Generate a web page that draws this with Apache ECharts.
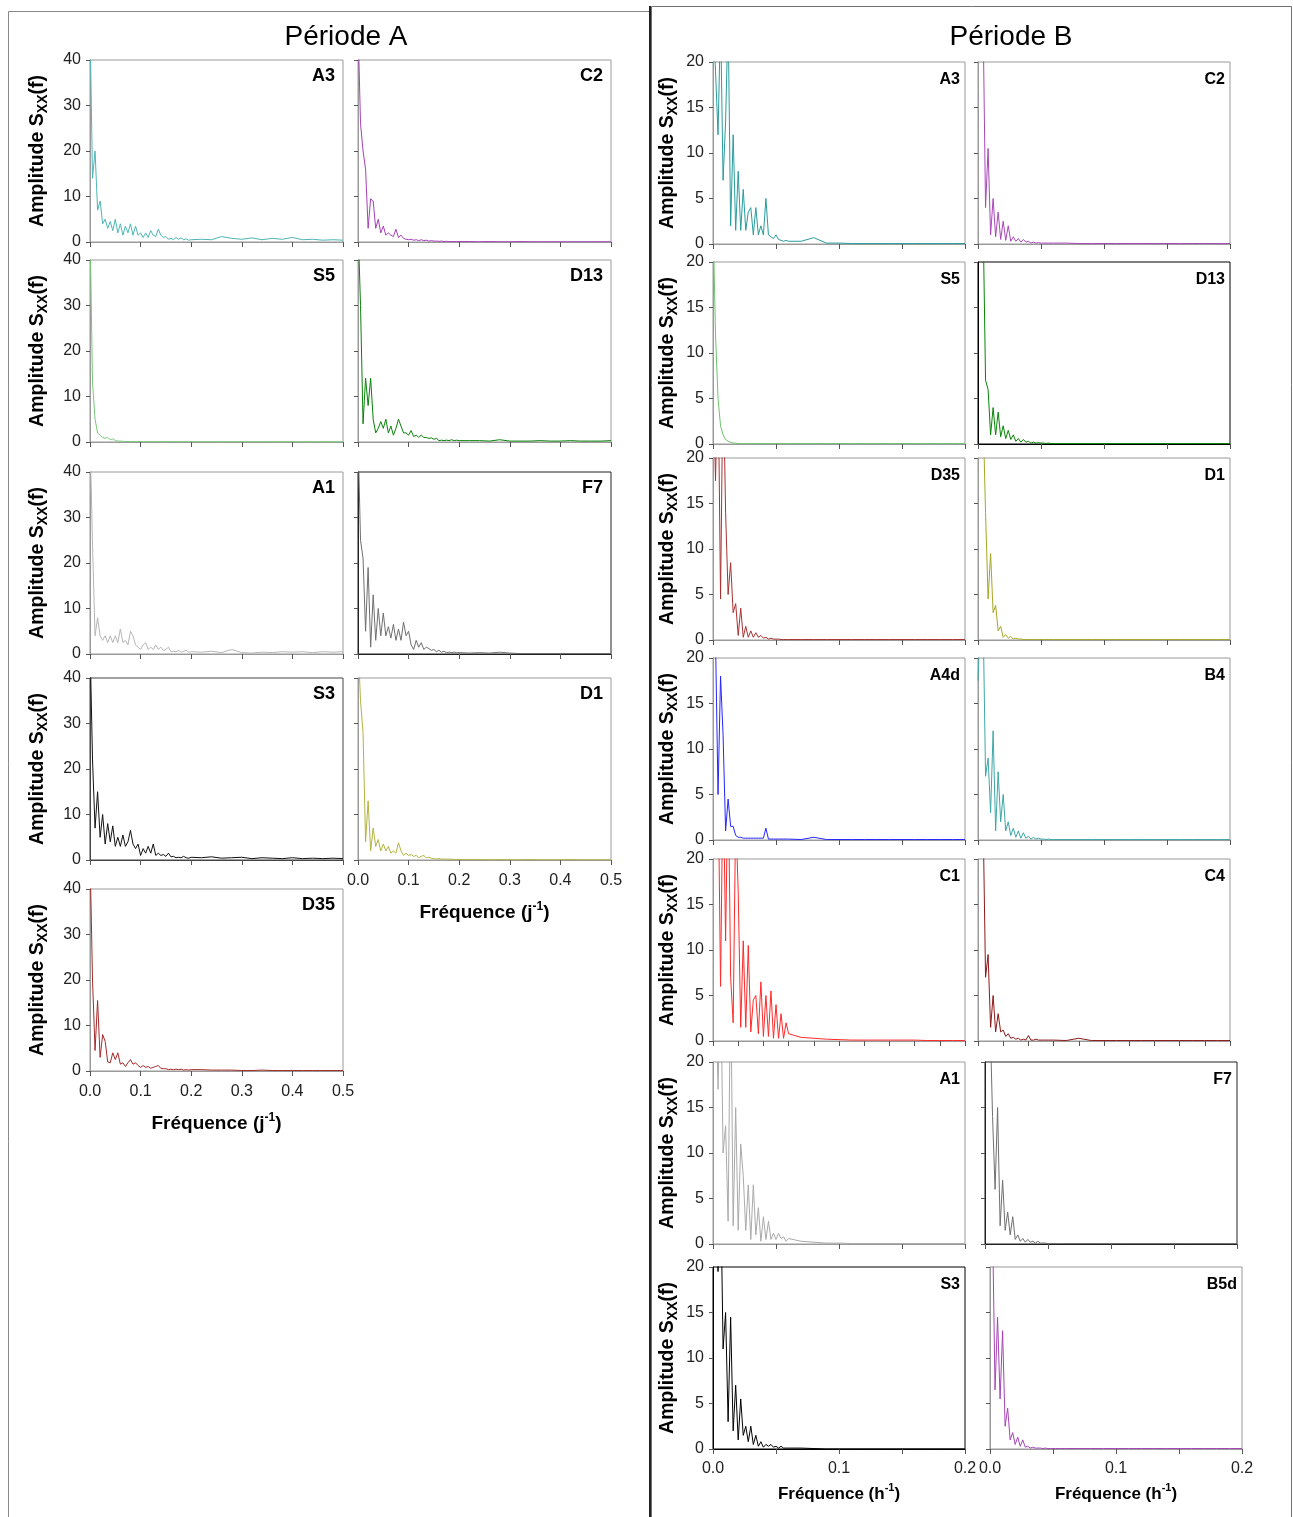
<!DOCTYPE html>
<html>
<head>
<meta charset="utf-8">
<title>Spectres Sxx(f)</title>
<script src="https://cdn.jsdelivr.net/npm/echarts@6/dist/echarts.min.js"></script>
<style>
  html, body { margin: 0; padding: 0; background: #fff; }
  #main { width: 1293px; height: 1517px; }
</style>
</head>
<body>
<div id="main"></div>
<script>
// frequency grids (A: j-1, B: h-1)
var freqA = [0, 0.005, 0.01, 0.015, 0.02, 0.025, 0.03, 0.035, 0.04, 0.045,
  0.05, 0.055, 0.06, 0.065, 0.07, 0.075, 0.08, 0.085, 0.09, 0.095,
  0.1, 0.105, 0.11, 0.115, 0.12, 0.125, 0.13, 0.135, 0.14, 0.145,
  0.15, 0.155, 0.16, 0.165, 0.17, 0.175, 0.18, 0.185, 0.19, 0.195,
  0.2,
  0.22, 0.24, 0.26, 0.28, 0.30, 0.32, 0.34, 0.36, 0.38, 0.40, 0.42, 0.44, 0.46, 0.48, 0.50];
var freqB = [0, 0.002, 0.004, 0.006, 0.008, 0.01, 0.012, 0.014, 0.016, 0.018,
  0.02, 0.022, 0.024, 0.026, 0.028, 0.03, 0.032, 0.034, 0.036, 0.038,
  0.04, 0.042, 0.044, 0.046, 0.048, 0.05, 0.052, 0.054, 0.056, 0.058,
  0.06,
  0.07, 0.08, 0.09, 0.1, 0.11, 0.12, 0.13, 0.14, 0.15, 0.16, 0.17, 0.18, 0.19, 0.2];

var tickLabelsA = ['0.0', '0.1', '0.2', '0.3', '0.4', '0.5'];
var tickLabelsB = ['0.0', '0.1', '0.2'];

// Période A amplitudes
var ampA_A3 = [48,14,20,7,9,4,5,3,4.5,2.5, 5,2,4,1.5,3.5,2,4,1.5,3.5,1.5, 2,1,2,1,2.5,1.5,1.2,2.8,1.5,1,
  1.2,0.6,0.8,0.5,1,0.6,0.9,0.5,0.7,0.4, 0.5,
  0.6,0.5,1.2,0.8,0.6,0.9,0.5,0.8,0.6,1.0,0.5,0.6,0.4,0.5,0.4];
var ampA_C2 = [48,26,20,16,3,9.5,9,3,5,2, 3.5,1.5,2,1.5,1.2,2.8,1,1.5,0.8,0.6, 0.5,0.6,0.4,0.5,0.3,0.5,0.3,0.4,0.2,0.3,
  0.2,0.2,0.15,0.2,0.1,0.15,0.1,0.1,0.1,0.1, 0.1,
  0.1,0.05,0.1,0.05,0.05,0.1,0.05,0.05,0.05,0.05,0.05,0.05,0.05,0.05,0.05];
var ampA_S5 = [48,13,5,2,1.5,1,0.8,1,0.5,0.7, 0.3,0.2,0.2,0.15,0.1,0.1,0.1,0.1,0.1,0.1, 0.1,0.05,0.1,0.05,0.1,0.05,0.1,0.05,0.1,0.05,
  0.1,0.05,0.1,0.05,0.1,0.05,0.1,0.05,0.1,0.05, 0.05,
  0.05,0.05,0.05,0.05,0.05,0.05,0.05,0.05,0.05,0.05,0.05,0.05,0.05,0.05,0.05];
var ampA_D13 = [48,30,4,14,8,14,5,2,3,4.5, 3,5,2,3.5,1.5,3,5,3.5,2,2, 1.5,2.5,1.2,1.5,1,1.5,1,1,0.8,0.9,
  0.6,0.8,0.3,0.4,0.3,0.4,0.3,0.5,0.3,0.4, 0.3,
  0.3,0.3,0.2,0.5,0.2,0.2,0.2,0.3,0.2,0.2,0.3,0.2,0.2,0.2,0.3];
var ampA_A1 = [48,24,4,8,4,3,4,2.5,4,2.5, 4,2.5,5.5,2.5,3,2,5,4,2,1.5, 1,2,2.5,1,1.5,1,2,1,1.5,0.8,
  1,1.5,0.5,0.6,0.5,0.8,0.4,0.6,0.8,0.4, 0.5,
  0.4,0.6,0.3,1,0.3,0.2,0.4,0.3,0.5,0.4,0.5,0.3,0.5,0.4,0.5];
var ampA_F7 = [48,25,21,5,19,1.5,13,3,10,4, 9,4,6,3.5,6.5,3,5.5,3,7,4, 5,2,1,3,1.5,2.5,1,1.5,1.2,0.8,
  1,0.5,0.8,0.4,0.6,0.3,0.4,0.3,0.4,0.3, 0.3,
  0.2,0.3,0.2,0.4,0.2,0.1,0.1,0.1,0.1,0.1,0.1,0.1,0.1,0.1,0.1];
var ampA_S3 = [48,22,7,15,5,10,3.5,8,4,7.5, 3,5,3,5.5,3,4,6.5,3.5,2.5,3.5, 1,2.5,1.5,3,1.5,3.5,1,1.5,1,1.2,
  0.8,1.5,0.7,0.8,0.5,0.6,0.5,0.8,0.5,0.4, 0.6,
  0.5,0.7,0.4,0.5,0.6,0.3,0.5,0.4,0.3,0.5,0.3,0.4,0.3,0.4,0.3];
var ampA_D1 = [48,35,28,4,13,2,7,3,4.5,2, 3.5,2,3,1.5,2,1.5,3.8,2,1,1.5, 1,1.2,0.8,1,0.5,0.8,1,0.5,0.6,0.4,
  0.3,0.2,0.3,0.2,0.2,0.2,0.15,0.2,0.1,0.15, 0.1,
  0.1,0.1,0.05,0.1,0.05,0.05,0.1,0.05,0.05,0.05,0.1,0.05,0.05,0.05,0.05];
var ampA_D35 = [48,20,4.5,15.5,3,8,6.5,2,1.8,4, 2.5,4,1.5,1.8,1,1.8,2.5,1.5,1.8,1.2, 0.8,1.2,0.8,1,0.6,0.8,1,1.2,0.6,0.5,
  0.5,0.3,0.4,0.3,0.4,0.3,0.4,0.2,0.3,0.2, 0.3,
  0.3,0.2,0.2,0.2,0.1,0.1,0.2,0.1,0.1,0.1,0.1,0.1,0.1,0.1,0.1];

// Période B amplitudes
var ampB_A3 = [25,19,12,25,7,13.5,25,2,12,1.5, 8,1.5,6,1.5,3.5,4,1,4,1,2, 1,5,1,0.8,0.6,1,0.5,0.4,0.3,0.4, 0.3,
  0.3,0.7,0.1,0.1,0.05,0.05,0.05,0.05,0.05,0.05,0.05,0.05,0.05,0.05];
var ampB_C2 = [30,30,25,4,10.5,1,5,0.8,3.5,0.5, 2.5,0.4,2,0.3,0.8,0.3,0.6,0.2,0.5,0.2, 0.3,0.1,0.2,0.1,0.15,0.1,0.1,0.1,0.1,0.1, 0.1,
  0.1,0.05,0.05,0.05,0.05,0.05,0.05,0.05,0.05,0.05,0.05,0.05,0.05,0.05];
var ampB_S5 = [25,12,5,2,1,0.5,0.3,0.2,0.1,0.1, 0.05,0.05,0.05,0.05,0.05,0.05,0.05,0.05,0.05,0.05, 0.05,0.05,0.05,0.05,0.05,0.05,0.05,0.05,0.05,0.05, 0.05,
  0.05,0.05,0.05,0.05,0.05,0.05,0.05,0.05,0.05,0.05,0.05,0.05,0.05,0.05];
var ampB_D13 = [30,30,25,7,6,1,4,1,3.5,0.8, 2,0.6,1.5,0.5,1,0.3,0.6,0.2,0.5,0.2, 0.3,0.1,0.2,0.1,0.15,0.1,0.1,0.05,0.1,0.05, 0.05,
  0.05,0.05,0.05,0.05,0.05,0.05,0.05,0.05,0.05,0.05,0.05,0.05,0.05,0.05];
var ampB_D35 = [30,17.5,30,4.5,30,14,5,8.5,3,4, 0.5,3.5,0.3,1.5,0.3,1,0.3,0.8,0.3,0.5, 0.2,0.3,0.1,0.2,0.1,0.1,0.1,0.05,0.05,0.05, 0.05,
  0.05,0.05,0.05,0.05,0.05,0.05,0.05,0.05,0.05,0.05,0.05,0.05,0.05,0.05];
var ampB_D1 = [30,30,25,14,4.5,9.5,3,3.8,1,1.5, 0.3,0.6,0.2,0.4,0.1,0.2,0.1,0.1,0.05,0.05, 0.05,0.05,0.05,0.05,0.05,0.05,0.05,0.05,0.05,0.05, 0.05,
  0.05,0.05,0.05,0.05,0.05,0.05,0.05,0.05,0.05,0.05,0.05,0.05,0.05,0.05];
var ampB_A4d = [30,22,5,18,11.5,1,4.5,1.5,1.5,0.5, 0.3,0.3,0.2,0.2,0.2,0.2,0.2,0.2,0.2,0.2, 0.2,1.3,0.1,0.1,0.1,0.1,0.1,0.1,0.1,0.1, 0.1,
  0.05,0.3,0.05,0.05,0.05,0.05,0.05,0.05,0.05,0.05,0.05,0.05,0.05,0.05];
var ampB_B4 = [17.5,25,25,7,9,3,12,1,7.5,2, 5,1,2,0.5,1.3,0.3,1,0.2,0.8,0.2, 0.4,0.1,0.3,0.1,0.2,0.1,0.1,0.05,0.1,0.05, 0.05,
  0.05,0.05,0.05,0.05,0.05,0.05,0.05,0.05,0.05,0.05,0.05,0.05,0.05,0.05];
var ampB_C1 = [30,30,30,6,30,11,30,7,2,25, 16.5,1.5,11,1.5,10.5,1,4.5,5,0.8,6.5, 0.5,5,0.5,5.5,0.3,4,0.3,3,0.3,2, 0.8,
  0.4,0.3,0.2,0.15,0.1,0.1,0.1,0.1,0.1,0.1,0.05,0.05,0.05,0.05];
var ampB_C4 = [30,30,25,7,9.5,1.5,5,1,3,1, 1.2,0.5,0.8,0.3,0.4,0.2,0.3,0.1,0.2,0.1, 0.6,0.1,0.1,0.2,0.1,0.1,0.1,0.1,0.1,0.1, 0.1,
  0.05,0.3,0.05,0.05,0.05,0.05,0.05,0.05,0.05,0.05,0.05,0.05,0.05,0.05];
var ampB_A1 = [30,30,17,30,10,13,2.5,30,2,15, 1.5,11,7.5,1.5,6.5,0.5,6.5,1,4,0.3, 3,0.5,2.5,0.5,1.2,0.5,1.2,0.6,0.8,0.3, 0.6,
  0.3,0.2,0.1,0.1,0.05,0.05,0.05,0.05,0.05,0.05,0.05,0.05,0.05,0.05];
var ampB_F7 = [30,30,25,14,6,15,2,7,1.5,3.5, 1,3,0.5,1,0.3,0.6,0.2,0.5,0.2,0.3, 0.1,0.3,0.1,0.1,0.1,0.05,0.05,0.05,0.05,0.05, 0.05,
  0.05,0.05,0.05,0.05,0.05,0.05,0.05,0.05,0.05,0.05,0.05,0.05,0.05,0.05];
var ampB_S3 = [30,30,19.5,30,11,15,3,14.5,2,7, 1,5.5,1.5,2.5,0.8,2.5,0.5,1.5,0.3,0.8, 0.2,0.5,0.3,0.5,0.2,0.3,0.1,0.3,0.1,0.1, 0.1,
  0.1,0.05,0,0,0,0,0,0,0,0,0,0,0,0];
var ampB_B5d = [30,25,6.5,14.5,5.5,13,2.5,4.5,1,1.8, 0.5,1.3,0.3,1,0.2,0.3,0.1,0.2,0.1,0.1, 0.1,0.05,0.1,0.05,0.05,0.05,0.05,0.05,0.05,0.05, 0.05,
  0.05,0.05,0.05,0.05,0.05,0.05,0.05,0.05,0.05,0.05,0.05,0.05,0.05,0.05];

var FONT = 'Liberation Sans, Arial, Helvetica, sans-serif';

function makeRich(size) {
  return {
    t: { fontFamily: FONT, fontSize: size, fontWeight: 'bold', color: '#000', lineHeight: 24 },
    sup: { fontFamily: FONT, fontSize: Math.round(size * 0.65), fontWeight: 'bold', color: '#000', verticalAlign: 'top' },
    sub: { fontFamily: FONT, fontSize: Math.round(size * 0.7), fontWeight: 'bold', color: '#000', verticalAlign: 'bottom' }
  };
}

var periodA = {
  freq: freqA, xmax: 0.5, xint: 0.1, ymax: 40, yint: 10,
  cols: [90, 358], rows: [60, 260, 472, 678, 889], w: 253, h: 182,
  xname: '{t|Fréquence (j}{sup|-1}{t|)}', xgap: 41, ygap: 40, xlabMargin: 13,
  xrich: makeRich(19), yrich: makeRich(19.5),
  labelFont: 'bold 18px ' + FONT, labelInset: 8, labelDy: 16,
  fmt: function (v) { return tickLabelsA[Math.round(v * 10)]; },
  panels: [
    { name: 'A3', amp: ampA_A3, color: '#4fb5b5', row: 0, col: 0 },
    { name: 'C2', amp: ampA_C2, color: '#a640b8', row: 0, col: 1 },
    { name: 'S5', amp: ampA_S5, color: '#78c878', row: 1, col: 0 },
    { name: 'D13', amp: ampA_D13, color: '#0a820a', row: 1, col: 1 },
    { name: 'A1', amp: ampA_A1, color: '#b5b5b5', row: 2, col: 0 },
    { name: 'F7', amp: ampA_F7, color: '#6f6f6f', row: 2, col: 1, frame: '#222' },
    { name: 'S3', amp: ampA_S3, color: '#111111', row: 3, col: 0, frame: '#444' },
    { name: 'D1', amp: ampA_D1, color: '#b3b340', row: 3, col: 1, xlab: true },
    { name: 'D35', amp: ampA_D35, color: '#a52a2a', row: 4, col: 0, xlab: true }
  ]
};

var periodB = {
  freq: freqB, xmax: 0.2, xint: 0.05, ymax: 20, yint: 5,
  cols: [713, 978], rows: [62, 262, 458, 658, 859, 1062, 1267], w: 252, h: 182,
  xname: '{t|Fréquence (h}{sup|-1}{t|)}', xgap: 33, ygap: 33, xlabMargin: 12,
  xrich: makeRich(17), yrich: makeRich(19.5),
  labelFont: 'bold 16px ' + FONT, labelInset: 5, labelDy: 18,
  fmt: function (v) {
    var k = Math.round(v * 10);
    return Math.abs(v * 10 - k) < 1e-6 ? tickLabelsB[k] : '';
  },
  panels: [
    { name: 'A3', amp: ampB_A3, color: '#2a9c9c', row: 0, col: 0 },
    { name: 'C2', amp: ampB_C2, color: '#a848b8', row: 0, col: 1 },
    { name: 'S5', amp: ampB_S5, color: '#6cc46c', row: 1, col: 0 },
    { name: 'D13', amp: ampB_D13, color: '#078507', row: 1, col: 1, frame: '#000' },
    { name: 'D35', amp: ampB_D35, color: '#a83232', row: 2, col: 0 },
    { name: 'D1', amp: ampB_D1, color: '#a6a626', row: 2, col: 1 },
    { name: 'A4d', amp: ampB_A4d, color: '#2525ff', row: 3, col: 0 },
    { name: 'B4', amp: ampB_B4, color: '#3fa7a7', row: 3, col: 1 },
    { name: 'C1', amp: ampB_C1, color: '#ff2a2a', row: 4, col: 0, xint: 0.02 },
    { name: 'C4', amp: ampB_C4, color: '#8e1a1a', row: 4, col: 1, xint: 0.02 },
    { name: 'A1', amp: ampB_A1, color: '#aaaaaa', row: 5, col: 0 },
    { name: 'F7', amp: ampB_F7, color: '#707070', row: 5, col: 1, left: 985, frame: '#222' },
    { name: 'S3', amp: ampB_S3, color: '#000000', row: 6, col: 0, frame: '#000', xlab: true },
    { name: 'B5d', amp: ampB_B5d, color: '#a445b5', row: 6, col: 1, left: 990, xlab: true }
  ]
};

var grids = [], xAxes = [], yAxes = [], series = [], texts = [];

function addPanel(per, p) {
  var idx = grids.length;
  var left = p.left || per.cols[p.col];
  var top = per.rows[p.row];
  var frame = p.frame || '#9a9a9a';
  grids.push({
    left: left, top: top, width: per.w, height: per.h,
    show: true, borderColor: frame, borderWidth: 1,
    containLabel: false, outerBoundsMode: 'none'
  });
  xAxes.push({
    gridIndex: idx, type: 'value', min: 0, max: per.xmax, interval: p.xint || per.xint,
    axisLine: { show: true, onZero: false, lineStyle: { color: frame, width: 1 } },
    axisTick: { show: true, length: 5, lineStyle: { color: '#555' } },
    splitLine: { show: false },
    axisLabel: {
      show: !!p.xlab, formatter: per.fmt, fontSize: 16, color: '#222',
      fontFamily: FONT, margin: per.xlabMargin, showMinLabel: true, showMaxLabel: true
    },
    name: p.xlab ? per.xname : '', nameLocation: 'middle', nameGap: per.xgap,
    nameTextStyle: { rich: per.xrich }
  });
  yAxes.push({
    gridIndex: idx, type: 'value', min: 0, max: per.ymax, interval: per.yint,
    axisLine: { show: true, lineStyle: { color: frame, width: 1 } },
    axisTick: { show: true, length: 4, lineStyle: { color: '#555' } },
    splitLine: { show: false },
    axisLabel: {
      show: p.col === 0, fontSize: 16, color: '#222', fontFamily: FONT, margin: 9,
      showMinLabel: true, showMaxLabel: true
    },
    name: p.col === 0 ? '{t|Amplitude S}{sub|XX}{t|(f)}' : '',
    nameLocation: 'middle', nameRotate: 90, nameGap: per.ygap,
    nameTextStyle: { rich: per.yrich }
  });
  var pts = [];
  for (var i = 0; i < per.freq.length && i < p.amp.length; i++) {
    pts.push([per.freq[i], p.amp[i]]);
  }
  series.push({
    type: 'line', xAxisIndex: idx, yAxisIndex: idx, data: pts,
    showSymbol: false, symbol: 'none', clip: true, silent: true,
    lineStyle: { color: p.color, width: 1 },
    emphasis: { disabled: true }
  });
  texts.push({
    type: 'text', x: left + per.w - per.labelInset, y: top + per.labelDy, z: 10,
    style: { text: p.name, font: per.labelFont, fill: '#000', textAlign: 'right', textVerticalAlign: 'middle' }
  });
}

periodA.panels.forEach(function (p) { addPanel(periodA, p); });
periodB.panels.forEach(function (p) { addPanel(periodB, p); });

var frames = [
  { type: 'rect', shape: { x: 8.5, y: 11.5, width: 641, height: 1540 },
    style: { fill: 'none', stroke: '#8a8a8a', lineWidth: 1 }, silent: true },
  { type: 'rect', shape: { x: 651.5, y: 6.5, width: 640, height: 1540 },
    style: { fill: 'none', stroke: '#707070', lineWidth: 1 }, silent: true },
  { type: 'line', shape: { x1: 650, y1: 6, x2: 650, y2: 1517 },
    style: { stroke: '#222', lineWidth: 2 }, silent: true },
  { type: 'text', x: 346, y: 37,
    style: { text: 'Période A', font: '28px ' + FONT, fill: '#000', textAlign: 'center', textVerticalAlign: 'middle' } },
  { type: 'text', x: 1011, y: 37,
    style: { text: 'Période B', font: '28px ' + FONT, fill: '#000', textAlign: 'center', textVerticalAlign: 'middle' } }
];

var myChart = echarts.init(document.getElementById('main'), null, { renderer: 'canvas' });
myChart.setOption({
  backgroundColor: '#ffffff',
  animation: false,
  textStyle: { fontFamily: FONT },
  grid: grids,
  xAxis: xAxes,
  yAxis: yAxes,
  series: series,
  graphic: { elements: frames.concat(texts) }
});
</script>
</body>
</html>
